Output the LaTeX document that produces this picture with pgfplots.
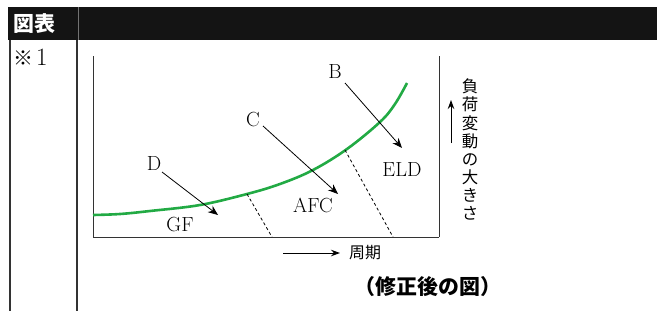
\documentclass[border=0pt]{standalone}
\usepackage{pgfplots}
\pgfplotsset{compat=1.18}
\usepackage{fontspec}
\newfontfamily\jp{Noto Sans CJK JP}
\usetikzlibrary{arrows.meta}
\definecolor{curvegreen}{HTML}{22AA44}
\definecolor{frame}{HTML}{333333}
\newcommand\lab{\fontsize{20.5}{22}\selectfont}
\begin{document}
\begin{tikzpicture}[x=1bp,y=1bp]
\path[use as bounding box] (0,0) rectangle (657,311);
% header bar
\fill[black!92] (8,304) rectangle (657,271);
\draw[black!55, line width=0.8bp] (78,304) -- (78,271);
\node[text=white, font=\jp\bfseries\fontsize{21}{23}\selectfont, inner sep=0] at (34,287) {図表};
% table lines
\draw[frame, line width=2bp] (9.5,271) -- (9.5,0);
\draw[frame, line width=1.6bp] (77,271) -- (77,0);
\node[font=\jp\fontsize{20}{22}\selectfont, inner sep=0, anchor=west] at (13,253) {※};
\node[font=\fontsize{25}{27}\selectfont, inner sep=0, anchor=west] at (36,253.5) {1};
\begin{axis}[
  at={(93,74)}, anchor=south west,
  width=346bp, height=181bp, scale only axis,
  xmin=93, xmax=439, ymin=74, ymax=255,
  axis x line=bottom, axis y line=box,
  axis line style={-, line width=1bp, draw=frame},
  xtick=\empty, ytick=\empty,
  clip=false,
]
\addplot[curvegreen, line width=2.6bp, smooth, tension=0.6] coordinates {
 (93,96) (120,97) (150,100) (200,106) (247,117) (280,127) (313,141) (347,162) (380,189) (395,207) (407,228)};
\addplot[black, line width=0.8bp, dash pattern=on 3bp off 2.5bp] coordinates {(247,117) (272,74)};
\addplot[black, line width=0.8bp, dash pattern=on 3bp off 2.5bp] coordinates {(345,161) (393,74)};
\draw[black, line width=0.8bp, -{Stealth[length=10bp,width=8bp]}] (axis cs:162,139) -- (axis cs:218,96);
\draw[black, line width=0.8bp, -{Stealth[length=10bp,width=8bp]}] (axis cs:263,185) -- (axis cs:338,117);
\draw[black, line width=0.8bp, -{Stealth[length=10bp,width=8bp]}] (axis cs:345,228) -- (axis cs:402,163);
\node[font=\lab, inner sep=0] at (axis cs:154,147) {D};
\node[font=\lab, inner sep=0] at (axis cs:180,86) {GF};
\node[font=\lab, inner sep=0] at (axis cs:253,191) {C};
\node[font=\lab, inner sep=0] at (axis cs:313,106) {AFC};
\node[font=\lab, inner sep=0] at (axis cs:335,239) {B};
\node[font=\lab, inner sep=0] at (axis cs:402,141) {ELD};
\end{axis}
% axis direction arrows and labels
\draw[black, line width=1bp, -{Stealth[length=9bp,width=6.5bp]}] (451,168) -- (451,211);
\node[font=\jp\fontsize{16.5}{18.1}\selectfont, align=center, inner sep=0] at (470,161.5) {負\\荷\\変\\動\\の\\大\\き\\さ};
\draw[black, line width=1bp, -{Stealth[length=9bp,width=6.5bp]}] (283,58) -- (340,58);
\node[font=\jp\fontsize{16}{18}\selectfont, inner sep=0, anchor=west] at (349,58) {周期};
\node[font=\jp\bfseries\fontsize{21}{23}\selectfont, inner sep=0] at (428,24) {（修正後の図）};
\end{tikzpicture}
\end{document}
